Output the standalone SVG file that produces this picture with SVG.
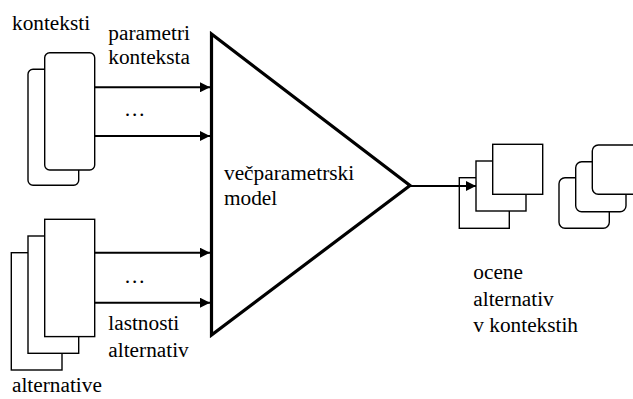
<svg xmlns="http://www.w3.org/2000/svg" width="633" height="399" viewBox="0 0 633 399">
  <style>
    .card { fill: #fff; stroke: #000; stroke-width: 1.4; }
    .wire { fill: none; stroke: #000; stroke-width: 2; }
    .block { fill: #fff; stroke: #000; stroke-width: 3.2; stroke-linejoin: miter; }
    text { font-family: "Liberation Serif", "Times New Roman", serif; font-size: 21.3px; fill: #000; }
  </style>
  <defs>
    <marker id="arrow" viewBox="0 0 10 10" refX="10" refY="5" markerWidth="10" markerHeight="10" markerUnits="userSpaceOnUse" orient="auto">
      <path d="M0,0 L10,5 L0,10 z" fill="#000"/>
    </marker>
  </defs>

  <!-- context stack (rounded cards) -->
  <g id="konteksti">
    <rect class="card" x="28" y="69.3" width="50.7" height="116" rx="5"/>
    <rect class="card" x="44.7" y="52.7" width="50" height="117.3" rx="5"/>
    <text x="12" y="30">konteksti</text>
  </g>

  <!-- alternatives stack (plain cards) -->
  <g id="alternative">
    <rect class="card" x="11.3" y="252.7" width="50.7" height="117.3"/>
    <rect class="card" x="28" y="236" width="50.7" height="117.3"/>
    <rect class="card" x="44.7" y="219.3" width="50" height="117.3"/>
    <text x="12" y="392">alternative</text>
  </g>

  <!-- multi-parameter model block -->
  <g id="model">
    <polygon class="block" points="211.5,34 211.5,335 410,185.5"/>
    <text x="224" y="180">večparametrski</text>
    <text x="224" y="205">model</text>
  </g>

  <!-- output evaluations -->
  <g id="ocene">
    <rect class="card" x="459.3" y="177.7" width="50" height="50.6"/>
    <rect class="card" x="476" y="161" width="50" height="50"/>
    <rect class="card" x="492.7" y="144.3" width="50" height="50"/>
    <rect class="card" x="559" y="177.7" width="50.3" height="50.6" rx="6"/>
    <rect class="card" x="575.7" y="161.7" width="50.3" height="50" rx="6"/>
    <rect class="card" x="592.3" y="145" width="50.3" height="49.3" rx="6"/>
    <text x="473.3" y="279.3">ocene</text>
    <text x="473.3" y="305.5">alternativ</text>
    <text x="473.3" y="331.7">v kontekstih</text>
  </g>

  <!-- connectors -->
  <g id="connectors">
    <line class="wire" x1="94.7" y1="87.3" x2="210" y2="87.3" marker-end="url(#arrow)"/>
    <line class="wire" x1="94.7" y1="136" x2="210" y2="136" marker-end="url(#arrow)"/>
    <line class="wire" x1="94.7" y1="252.7" x2="210" y2="252.7" marker-end="url(#arrow)"/>
    <line class="wire" x1="94.7" y1="302.7" x2="210" y2="302.7" marker-end="url(#arrow)"/>
    <line class="wire" x1="410" y1="186" x2="476" y2="186" marker-end="url(#arrow)"/>
    <text x="108.3" y="40">parametri</text>
    <text x="108.3" y="64">konteksta</text>
    <text x="124" y="116">…</text>
    <text x="124" y="283">…</text>
    <text x="108.3" y="330">lastnosti</text>
    <text x="108.3" y="356.5">alternativ</text>
  </g>
</svg>
